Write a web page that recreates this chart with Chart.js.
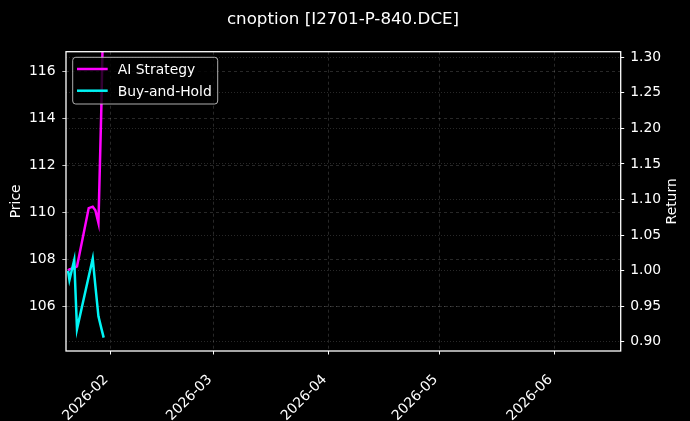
<!DOCTYPE html>
<html>
<head>
<meta charset="utf-8">
<script src="https://cdn.jsdelivr.net/npm/chart.js@4.4.1/dist/chart.umd.min.js"></script>
<style>
  html, body { margin: 0; background: #000; }
  #wrap { width: 690px; height: 421px; }
</style>
</head>
<body>
<div id="wrap"><canvas id="chart"></canvas></div>
<script>
// timestamps of the samples (UTC)
const times = [
  "2026-01-20T14:00", "2026-01-20T23:00", "2026-01-22T06:00", "2026-01-23T00:00",
  "2026-01-26T04:00", "2026-01-27T06:00", "2026-01-27T23:00", "2026-01-28T19:00",
  "2026-01-29T14:00", "2026-01-30T05:00"
];
// cumulative return of each curve
const aiStrategy = [1.000, 1.002, 1.004, 1.006, 1.088, 1.090, 1.085, 1.067, 1.230, 1.394];
const buyAndHold = [1.000, 0.987, 1.015, 0.918, 0.992, 1.017, 0.979, 0.936, 0.919, 0.906];

const monthTicks  = ["2026-02-01", "2026-03-01", "2026-04-01", "2026-05-01", "2026-06-01"];
const monthLabels = ["2026-02", "2026-03", "2026-04", "2026-05", "2026-06"];
const priceTicks  = [106, 108, 110, 112, 114, 116];
const returnTicks = [0.90, 0.95, 1.00, 1.05, 1.10, 1.15, 1.20, 1.25, 1.30];

const toMs = s => Date.parse(s.length === 10 ? s + "T00:00Z" : s + "Z");

const FONT = "DejaVu Sans";
const gridCol = "rgba(255,255,255,0.2)";

// Rahmen, Legende, Titel und Achsentitel wie im matplotlib-Bild
const frame = {
  id: "frame",
  beforeDraw(chart) {
    const ctx = chart.ctx;
    ctx.save();
    ctx.fillStyle = "#000";
    ctx.fillRect(0, 0, chart.width, chart.height);
    ctx.restore();
  },
  afterDatasetsDraw(chart) {
    const ctx = chart.ctx;
    const { left, right, top, bottom } = chart.chartArea;
    ctx.save();
    ctx.strokeStyle = "#fff";
    ctx.lineWidth = 1.3;
    ctx.strokeRect(left, top, right - left, bottom - top);

    // legend box
    const bx = left + 6.7, by = top + 5.6, bw = 145, bh = 46.7;
    ctx.beginPath();
    ctx.roundRect(bx, by, bw, bh, 3);
    ctx.fillStyle = "rgba(0,0,0,0.8)";
    ctx.fill();
    ctx.lineWidth = 1;
    ctx.strokeStyle = "rgba(204,204,204,0.85)";
    ctx.stroke();
    ctx.font = "13.9px '" + FONT + "'";
    ctx.textBaseline = "middle";
    ctx.textAlign = "left";
    chart.data.datasets.forEach((ds, i) => {
      const y = by + 11.7 + i * 21.7;
      ctx.strokeStyle = ds.borderColor;
      ctx.lineWidth = 2.5;
      ctx.beginPath();
      ctx.moveTo(bx + 4.3, y);
      ctx.lineTo(bx + 35, y);
      ctx.stroke();
      ctx.fillStyle = "#fff";
      ctx.fillText(ds.label, bx + 45, y + 1.5);
    });
    ctx.restore();
  },
  afterDraw(chart) {
    const ctx = chart.ctx;
    const { top, bottom } = chart.chartArea;
    const midY = (top + bottom) / 2;
    ctx.save();
    ctx.fillStyle = "#fff";
    ctx.textAlign = "center";
    ctx.textBaseline = "alphabetic";
    ctx.font = "16.7px '" + FONT + "'";
    ctx.fillText("cnoption [I2701-P-840.DCE]", 343, 24.3);

    ctx.font = "13.9px '" + FONT + "'";
    ctx.textBaseline = "middle";
    [["Price", 16.7], ["Return", 672.7]].forEach(([txt, x]) => {
      ctx.save();
      ctx.translate(x, midY);
      ctx.rotate(-Math.PI / 2);
      ctx.fillText(txt, 0, 0);
      ctx.restore();
    });
    ctx.restore();
  }
};

const tickFont = { family: FONT, size: 13.9 };
const gridOpts = {
  color: gridCol, lineWidth: 0.8,
  tickColor: "#fff", tickLength: 3.5, tickBorderDash: [1, 0], tickWidth: 1
};

new Chart(document.getElementById("chart"), {
  type: "line",
  plugins: [frame],
  data: {
    datasets: [
      {
        label: "AI Strategy",
        data: times.map((t, i) => ({ x: toMs(t), y: aiStrategy[i] })),
        borderColor: "#ff00ff",
        yAxisID: "y1",
        order: 2
      },
      {
        label: "Buy-and-Hold",
        data: times.map((t, i) => ({ x: toMs(t), y: buyAndHold[i] })),
        borderColor: "#00f5f5",
        yAxisID: "y1",
        order: 1
      }
    ]
  },
  options: {
    responsive: true,
    maintainAspectRatio: false,
    animation: false,
    layout: { padding: { top: 51.7, left: 0, right: 0, bottom: 0 } },
    elements: {
      point: { radius: 0 },
      line: { tension: 0, borderWidth: 2.5 }
    },
    plugins: {
      legend: { display: false },
      title: { display: false },
      tooltip: { enabled: false }
    },
    scales: {
      x: {
        type: "linear",
        min: toMs("2026-01-20T00:40"),
        max: toMs("2026-06-18T21:40"),
        afterBuildTicks(s) { s.ticks = monthTicks.map(d => ({ value: toMs(d) })); },
        afterFit(s) { s.height = 70; },
        ticks: {
          autoSkip: false, minRotation: 45, maxRotation: 45,
          padding: 17, labelOffset: -4, color: "#fff", font: tickFont,
          callback: (v, i) => monthLabels[i]
        },
        grid: gridOpts,
        border: { display: false, dash: [3, 3] }
      },
      y: {
        display: true,
        position: "left",
        min: 104.12,
        max: 116.82,
        afterBuildTicks(s) { s.ticks = priceTicks.map(v => ({ value: v })); },
        afterFit(s) { s.width = 66; },
        ticks: { padding: 7, color: "#fff", font: tickFont, callback: v => String(v) },
        grid: gridOpts,
        border: { display: false, dash: [3, 3] }
      },
      y1: {
        position: "right",
        min: 0.8872,
        max: 1.3077,
        afterBuildTicks(s) { s.ticks = returnTicks.map(v => ({ value: v })); },
        afterFit(s) { s.width = 69.3; },
        ticks: { padding: 6, color: "#fff", font: tickFont, callback: v => v.toFixed(2) },
        grid: gridOpts,
        border: { display: false, dash: [1, 2] }
      }
    }
  }
});
</script>
</body>
</html>
